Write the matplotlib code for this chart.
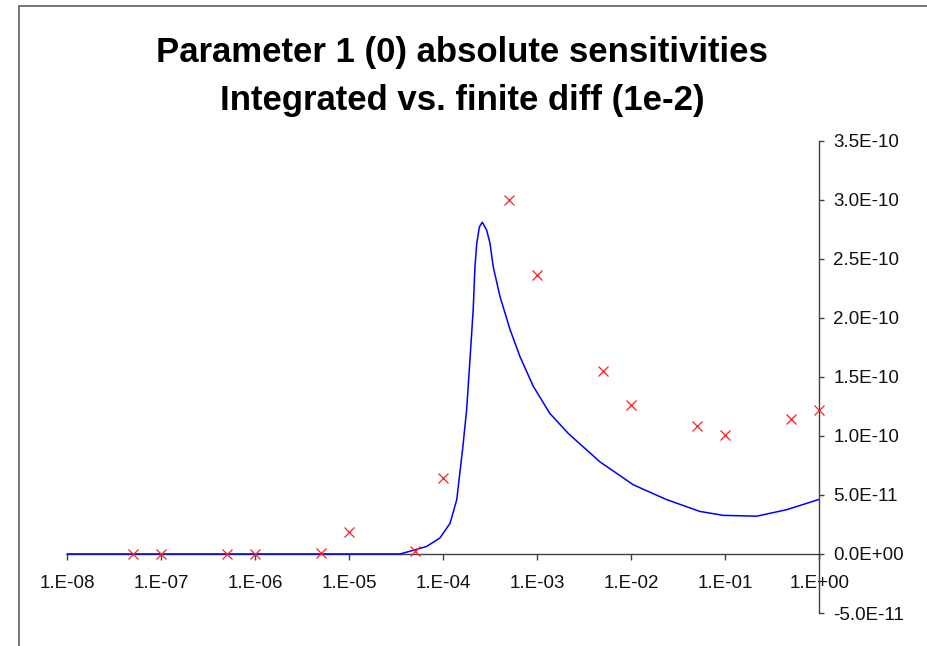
import matplotlib
matplotlib.use("Agg")
import matplotlib.pyplot as plt
from matplotlib.patches import Rectangle
from matplotlib.ticker import FixedLocator, FixedFormatter, NullLocator

# ---- data ----
curve_x = [1e-8, 3.46e-5, 4.76e-5, 6.66e-5, 9.2e-5, 1.18e-4, 1.39e-4, 1.61e-4,
           1.77e-4, 1.92e-4, 2.08e-4, 2.17e-4, 2.27e-4, 2.42e-4, 2.60e-4, 2.90e-4,
           3.14e-4, 3.40e-4, 4.01e-4, 5.13e-4, 6.55e-4, 9.06e-4, 1.36e-3, 2.14e-3,
           4.64e-3, 1.05e-2, 2.38e-2, 5.38e-2, 9.5e-2, 0.216, 0.45, 0.975]
curve_y = [0.0, 0.0, 3.0e-12, 6.4e-12, 1.35e-11, 2.6e-11, 4.6e-11, 8.97e-11,
           1.22e-10, 1.64e-10, 2.07e-10, 2.43e-10, 2.63e-10, 2.77e-10, 2.81e-10, 2.74e-10,
           2.63e-10, 2.43e-10, 2.18e-10, 1.90e-10, 1.67e-10, 1.42e-10, 1.19e-10, 1.02e-10,
           7.8e-11, 5.86e-11, 4.6e-11, 3.6e-11, 3.27e-11, 3.2e-11, 3.75e-11, 4.6e-11]

fd_x = [5e-8, 1e-7, 5e-7, 1e-6, 5e-6, 1e-5, 5e-5, 1e-4, 5e-4, 1e-3,
        5e-3, 1e-2, 5e-2, 1e-1, 5e-1, 1.0]
fd_y = [0.0, 0.0, 0.0, 0.0, 0.5e-12, 1.9e-11, 2.2e-12, 6.45e-11, 3.0e-10, 2.36e-10,
        1.55e-10, 1.26e-10, 1.085e-10, 1.01e-10, 1.14e-10, 1.22e-10]

xtick_vals = [1e-8, 1e-7, 1e-6, 1e-5, 1e-4, 1e-3, 1e-2, 1e-1, 1e0]
xtick_labels = ["1.E-08", "1.E-07", "1.E-06", "1.E-05", "1.E-04", "1.E-03",
                "1.E-02", "1.E-01", "1.E+00"]
ytick_vals = [-5e-11, 0.0, 5e-11, 1e-10, 1.5e-10, 2e-10, 2.5e-10, 3e-10, 3.5e-10]
ytick_labels = ["-5.0E-11", "0.0E+00", "5.0E-11", "1.0E-10", "1.5E-10",
                "2.0E-10", "2.5E-10", "3.0E-10", "3.5E-10"]

title_lines = ["Parameter 1 (0) absolute sensitivities",
               "Integrated vs. finite diff (1e-2)"]

# ---- figure ----
W, H = 927, 646
plt.rcParams['font.family'] = ['Liberation Sans', 'DejaVu Sans']
fig = plt.figure(figsize=(W / 100, H / 100), dpi=100)
fig.patch.set_facecolor('white')

# outer chart frame (cropped at right and bottom)
fig.patches.append(Rectangle((19 / W, -0.2), 1.5, 1.2 - 5.5 / H,
                             transform=fig.transFigure, fill=False,
                             edgecolor='#606060', linewidth=1.2))

ax = fig.add_axes([67.3 / W, 1 - 613 / H, (819.3 - 67.3) / W, (613 - 140.7) / H])
ax.set_facecolor('none')
ax.set_xscale('log')
ax.set_xlim(1e-8, 1.0)
ax.set_ylim(-5e-11, 3.5e-10)

axis_color = '#404040'
for s in ['top', 'left']:
    ax.spines[s].set_visible(False)
ax.spines['bottom'].set_position(('data', 0.0))
ax.spines['bottom'].set_color(axis_color)
ax.spines['right'].set_color(axis_color)
ax.spines['bottom'].set_linewidth(1.0)
ax.spines['right'].set_linewidth(1.0)

ax.xaxis.set_major_locator(FixedLocator(xtick_vals))
ax.xaxis.set_major_formatter(FixedFormatter(xtick_labels))
ax.xaxis.set_minor_locator(NullLocator())
ax.yaxis.set_major_locator(FixedLocator(ytick_vals))
ax.yaxis.set_major_formatter(FixedFormatter(ytick_labels))
ax.yaxis.set_minor_locator(NullLocator())
ax.yaxis.tick_right()

ax.tick_params(axis='x', direction='out', length=4.3, width=1.0, color=axis_color,
               pad=10.5, labelsize=13.5, labelcolor='#111111')
ax.tick_params(axis='y', direction='out', length=3.5, width=1.0, color=axis_color,
               pad=6.5, labelsize=13.5, labelcolor='#111111')

ax.plot(curve_x, curve_y, color='#0000ff', linewidth=1.1, zorder=3, clip_on=False)
ax.plot(fd_x, fd_y, linestyle='none', marker='x', color='#ff2020',
        markersize=6.5, markeredgewidth=0.9, zorder=4, clip_on=False)

fig.text(462 / W, 1 - 62 / H, title_lines[0], ha='center', va='baseline',
         fontsize=25, fontweight='bold', color='black')
fig.text(462 / W, 1 - 110 / H, title_lines[1], ha='center', va='baseline',
         fontsize=25, fontweight='bold', color='black')

fig.savefig('out.png', dpi=100)
